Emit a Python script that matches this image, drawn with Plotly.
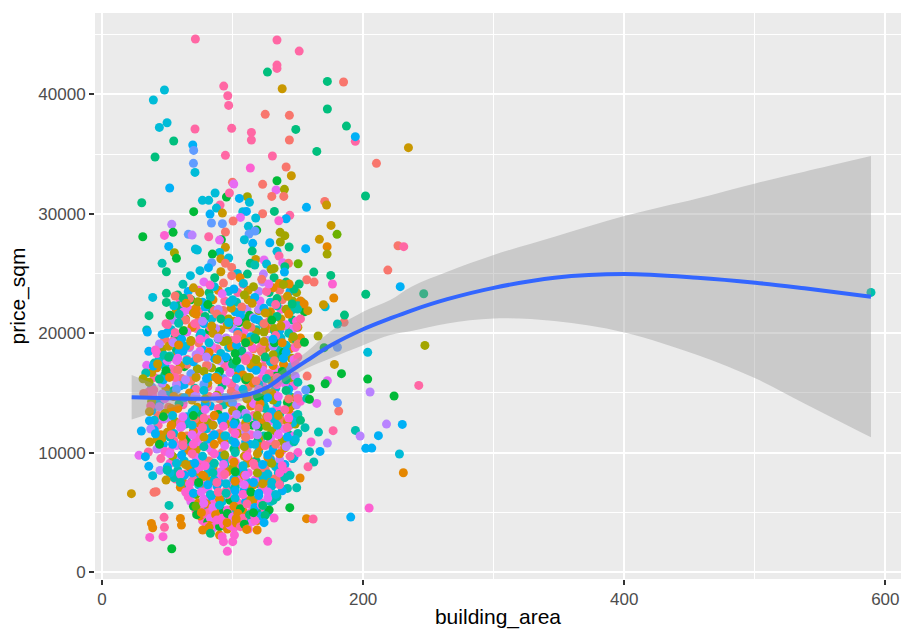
import plotly.graph_objects as go

palette = ["#F8766D","#E58700","#C99800","#A3A500","#6BB100","#00BA38","#00BF7D","#00C0AF",
           "#00BCD8","#00B0F6","#619CFF","#B983FF","#E76BF3","#FD61D1","#FF67A4"]

dense_area = [
62,70,78,86,93,101,108,116,123,131,139,147,
58,67,75,83,92,100,109,117,126,134,142,152,
55,63,72,81,89,98,107,115,124,133,141,150,
52,61,70,79,88,97,106,116,125,134,143,152,
50,59,69,78,87,96,105,114,123,132,141,150,
46,56,65,75,85,95,104,114,124,133,143,152,
44,54,64,74,84,93,103,113,122,132,141,150,
42,52,62,72,82,92,102,112,122,131,141,150,
40,50,60,70,80,90,100,110,119,129,139,148,
38,48,58,68,78,88,98,108,118,128,138,148,
36,47,57,68,78,89,99,110,120,130,140,150,
36,46,57,67,78,88,99,109,120,130,141,150,
38,48,59,69,79,90,100,111,121,131,142,152,
38,48,58,69,79,89,100,110,120,130,140,150,
40,50,60,71,81,91,102,112,122,132,142,152,
40,50,60,70,80,90,100,110,120,130,140,150,
42,52,62,72,81,91,100,110,119,129,138,148,
42,52,62,72,82,92,101,111,121,131,140,150,
45,54,63,72,82,91,100,109,118,127,136,146,
50,58,66,74,83,91,100,108,117,125,133,142,
55,63,70,78,86,93,101,109,117,124,132,140,
60,67,74,81,88,95,102,109,116,123,130,138,
66,72,78,84,90,96,102,108,114,120,127,134,
70,75,80,85,90,96,101,106,111,117,122,128,
75,79,83,87,92,96,100,104,108,113,117,122,
82,85,88,90,93,96,98,101,103,106,109,112,
64,71,77,84,91,97,104,111,117,124,130,137,
61,68,75,82,89,96,103,110,117,124,131,138,
58,65,73,80,88,95,103,110,118,125,132,139,
56,64,72,80,87,95,103,111,118,126,134,141,
55,63,71,79,87,95,103,111,119,127,135,143,
54,62,70,78,86,94,103,111,119,127,135,143,
53,61,69,78,86,94,102,110,119,127,135,142,
52,61,69,77,86,94,102,111,119,127,136,144,
52,60,69,77,85,94,102,110,119,127,136,144,
53,61,69,77,85,93,101,110,118,126,134,142,
54,62,70,78,86,94,102,109,117,125,133,141,
57,64,71,79,86,93,101,108,116,123,130,138,
60,67,74,81,88,95,102,109,116,123,130,136,
64,70,76,83,89,95,102,108,114,120,127,133,
]
dense_price = [
24100,23800,24300,23900,24200,23700,24100,23900,24300,23800,24100,23700,
23200,22900,23400,23000,23300,22800,23200,23000,23500,22900,23100,22700,
22300,22500,22100,22400,22000,22600,22200,22500,22100,22400,22000,22300,
21500,21300,21700,21400,21600,21200,21500,21300,21700,21400,21600,21200,
20700,20900,20500,20800,20400,20700,20900,20500,20800,20400,20700,20500,
19900,19700,20100,19800,20000,19600,19900,19700,20100,19800,20000,19600,
19100,19300,18900,19200,18900,19300,19000,19300,18900,19200,19000,19100,
18300,18100,18500,18200,18400,18000,18300,18100,18500,18200,18400,18000,
17500,17700,17300,17600,17300,17700,17400,17700,17300,17600,17400,17500,
16700,16500,16900,16600,16800,16400,16700,16500,16900,16600,16800,16400,
15900,16100,15700,16000,15700,16100,15800,16100,15700,16000,15800,15900,
15100,14900,15300,15000,15200,14800,15100,14900,15300,15000,15200,14800,
14300,14500,14100,14400,14100,14500,14200,14500,14100,14400,14200,14300,
13500,13300,13700,13400,13600,13200,13500,13300,13700,13400,13600,13200,
12700,12900,12500,12800,12500,12900,12600,12900,12500,12800,12600,12700,
11900,11700,12100,11800,12000,11600,11900,11700,12100,11800,12000,11600,
11100,11300,10900,11200,10900,11300,11000,11300,10900,11200,11000,11100,
10300,10100,10500,10200,10400,10000,10300,10100,10500,10200,10400,10000,
9500,9700,9300,9600,9300,9700,9400,9700,9300,9600,9400,9500,
8700,8500,8900,8600,8800,8400,8700,8500,8900,8600,8800,8400,
7900,8100,7700,8000,7700,8100,7800,8100,7700,8000,7800,7900,
7100,6900,7300,7000,7200,6800,7100,6900,7300,7000,7200,6800,
6300,6500,6100,6400,6100,6500,6200,6500,6100,6400,6200,6300,
5500,5300,5700,5400,5600,5200,5500,5300,5700,5400,5600,5200,
4700,4900,4500,4800,4500,4900,4600,4900,4500,4800,4600,4700,
3900,3700,4100,3800,4000,3600,3900,3700,4100,3800,4000,3600,
21100,20800,21000,20600,21200,20900,21000,20700,21200,20800,21100,20600,
19500,19300,19500,19200,19600,19400,19500,19200,19600,19300,19500,19200,
17900,17700,17900,18000,17800,18000,17700,17900,17800,18000,17700,17900,
16300,16100,16300,16200,16300,16000,16200,16300,16000,16200,16300,16100,
14700,14600,14700,14500,14700,14600,14800,14500,14700,14600,14700,14500,
13100,13000,13100,12900,13100,13000,13200,12900,13100,13000,13100,12900,
11500,11400,11500,11300,11500,11400,11600,11300,11500,11400,11500,11300,
9900,9800,9900,9700,9900,9800,10000,9700,9900,9800,9900,9700,
8300,8200,8300,8100,8300,8200,8400,8100,8300,8200,8300,8100,
12300,12200,12300,12100,12300,12200,12400,12100,12300,12200,12300,12100,
10700,10600,10700,10500,10700,10600,10800,10500,10700,10600,10700,10500,
9100,9000,9100,8900,9100,9000,9200,8900,9100,9000,9100,8900,
7500,7400,7500,7300,7500,7400,7600,7300,7500,7400,7500,7300,
6700,6600,6700,6500,6700,6600,6800,6500,6700,6600,6700,6500,
]
dense_hue = [
7,2,12,8,0,9,14,3,11,1,2,6,
6,0,2,7,12,8,3,9,14,6,2,1,
8,14,1,5,11,8,0,2,9,14,3,7,
5,12,2,6,0,3,9,11,2,6,1,14,
14,7,1,9,11,2,5,0,8,3,12,2,
9,6,12,8,2,11,0,9,3,14,7,1,
11,14,8,0,12,3,9,2,14,5,8,0,
13,7,9,11,1,8,5,12,0,3,9,14,
7,12,2,9,0,11,6,14,2,8,1,13,
2,6,0,10,3,8,12,1,9,14,5,11,
3,9,11,0,10,1,14,5,8,2,12,7,
14,11,10,1,8,3,0,9,12,2,6,11,
3,12,6,2,9,0,10,14,1,3,5,13,
9,3,1,8,12,5,2,11,0,9,14,7,
8,11,14,0,3,9,6,12,1,8,2,6,
9,2,12,1,8,0,14,11,5,3,12,7,
2,7,0,13,9,1,8,14,6,12,3,8,
11,13,9,2,12,0,6,14,1,9,2,13,
14,3,8,12,0,9,14,2,6,1,11,8,
9,7,1,13,8,12,3,9,14,0,8,13,
7,9,14,2,8,13,9,1,12,8,0,7,
1,13,8,12,9,14,7,9,1,13,8,9,
13,4,12,9,1,14,8,13,2,9,12,7,
5,13,1,12,8,13,1,5,14,9,13,5,
1,14,12,1,13,5,12,1,14,6,13,9,
1,12,13,5,13,1,12,13,1,14,5,13,
0,14,11,2,6,8,12,3,9,0,5,2,
9,2,13,8,11,3,14,5,6,2,9,1,
12,8,0,11,2,9,5,14,3,6,0,9,
14,11,2,9,1,12,8,3,0,7,14,6,
1,9,11,3,12,10,14,2,5,9,12,0,
8,12,5,14,1,9,11,7,3,14,2,13,
14,1,12,2,9,8,13,0,11,5,12,9,
12,9,14,8,13,3,7,13,2,9,1,14,
8,13,9,1,7,14,5,12,3,8,13,7,
1,12,8,14,2,13,9,0,11,3,8,14,
9,14,13,7,1,12,9,3,8,14,0,11,
8,2,9,13,7,12,1,8,14,9,3,13,
7,13,5,9,14,8,1,12,9,2,8,14,
13,9,12,8,14,7,9,13,5,9,12,8,
]

fill_area = [
66,74,82,89,97,104,112,120,128,136,144,149,
60,68,77,85,94,103,112,121,129,138,146,153,
57,66,74,84,93,102,111,120,129,137,145,155,
54,64,74,84,93,101,110,120,128,137,146,149,
53,63,72,82,91,100,109,118,128,136,145,147,
48,59,68,79,89,99,108,118,127,137,146,149,
46,57,67,77,88,97,107,116,126,135,144,148,
44,55,65,75,86,96,105,115,125,135,145,147,
42,53,63,73,84,94,104,114,123,133,142,145,
40,51,61,72,82,93,103,113,122,133,143,146,
38,49,60,71,81,92,102,112,123,133,143,147,
39,50,61,72,82,92,102,113,123,133,144,148,
41,51,62,73,83,93,104,114,124,134,145,149,
43,54,65,75,86,96,106,116,126,136,146,148,
43,53,64,74,85,95,105,115,125,135,144,148,
45,55,65,75,85,95,104,114,124,134,143,147,
47,57,66,75,85,94,103,113,122,131,140,144,
52,60,68,77,85,94,102,111,119,128,136,140,
57,64,72,80,88,96,104,112,120,127,135,138,
62,69,76,83,90,98,105,112,119,126,133,136,
68,74,80,86,92,98,104,110,116,122,129,131,
72,77,82,88,93,98,103,108,114,119,125,127,
77,81,85,90,94,98,102,106,111,115,119,123,
59,66,72,79,86,92,99,106,113,120,127,134,
62,69,76,83,90,97,104,111,118,125,132,139,
51,59,67,75,83,91,99,107,115,123,131,139,
48,56,65,73,81,90,98,106,114,123,131,140,
46,55,63,72,81,90,99,108,116,125,134,143,
44,53,62,71,80,89,98,107,116,125,134,143,
47,56,65,74,83,92,101,110,119,128,137,146,
46,55,64,73,83,92,101,110,120,129,138,147,
48,57,66,75,84,93,102,111,120,129,138,147,
50,59,68,76,85,94,103,112,120,129,138,146,
56,64,72,80,88,96,104,112,120,128,136,142,
]
fill_price = [
23500,23600,23400,23600,23500,23400,23600,23500,23400,23600,23500,23400,
22700,22800,22600,22800,22700,22600,22800,22700,22600,22800,22700,22600,
21900,22000,21800,22000,21900,21800,22000,21900,21800,22000,21900,21800,
21100,21200,21000,21200,21100,21000,21200,21100,21000,21200,21100,21000,
20300,20200,20400,20200,20300,20400,20200,20300,20400,20200,20300,20400,
19500,19600,19400,19600,19500,19400,19600,19500,19400,19600,19500,19400,
18700,18600,18800,18600,18700,18800,18600,18700,18800,18600,18700,18800,
17900,18000,17800,18000,17900,17800,18000,17900,17800,18000,17900,17800,
17100,17000,17200,17000,17100,17200,17000,17100,17200,17000,17100,17200,
16300,16400,16200,16400,16300,16200,16400,16300,16200,16400,16300,16200,
15500,15400,15600,15400,15500,15600,15400,15500,15600,15400,15500,15600,
14700,14800,14600,14800,14700,14600,14800,14700,14600,14800,14700,14600,
13900,13800,14000,13800,13900,14000,13800,13900,14000,13800,13900,14000,
13100,13200,13000,13200,13100,13000,13200,13100,13000,13200,13100,13000,
12300,12200,12400,12200,12300,12400,12200,12300,12400,12200,12300,12400,
11500,11600,11400,11600,11500,11400,11600,11500,11400,11600,11500,11400,
10700,10600,10800,10600,10700,10800,10600,10700,10800,10600,10700,10800,
9100,9200,9000,9200,9100,9000,9200,9100,9000,9200,9100,9000,
8300,8200,8400,8200,8300,8400,8200,8300,8400,8200,8300,8400,
7500,7600,7400,7600,7500,7400,7600,7500,7400,7600,7500,7400,
5900,5800,6000,5800,5900,6000,5800,5900,6000,5800,5900,6000,
5100,5200,5000,5200,5100,5000,5200,5100,5000,5200,5100,5000,
4300,4200,4400,4200,4300,4400,4200,4300,4400,4200,4300,4400,
22300,22000,21600,22200,21900,21500,22100,21800,21500,22000,21700,22300,
20100,20600,20000,20500,20200,20700,20100,20600,20100,20500,20200,20600,
18900,18400,18900,18500,18800,18300,18900,18500,18800,18400,18900,18400,
17300,16900,17400,17000,17300,16800,17300,17000,17400,16900,17300,16800,
15800,15200,15700,15300,15800,15200,15700,15300,15800,15200,15700,15300,
14200,13700,14200,13600,14100,13700,14200,13600,14100,13700,14200,13600,
12800,12600,12700,12500,12800,12600,12700,12500,12800,12600,12700,12500,
11200,11000,11100,10900,11200,11000,11100,10900,11200,11000,11100,10900,
10100,9500,10200,9600,10100,9500,10200,9600,10100,9500,10200,9600,
8800,9400,8700,9500,8800,9400,8700,9500,8800,9400,8700,9500,
7800,6900,7700,7000,7800,6900,7700,7000,7800,6900,7700,7000,
]
fill_hue = [
9,13,6,1,8,14,2,11,6,0,9,3,
13,5,9,1,14,7,2,12,8,0,3,6,
2,8,14,6,0,9,11,3,1,13,7,5,
11,3,0,8,12,1,5,9,14,2,6,13,
8,1,14,5,2,11,13,7,0,9,3,12,
0,9,3,13,7,14,1,5,11,8,2,6,
3,6,11,9,14,8,12,0,2,7,1,13,
8,2,14,0,9,5,11,1,13,6,3,12,
1,13,5,8,3,14,7,9,0,12,2,10,
14,7,0,12,8,10,1,2,13,5,9,3,
10,2,9,7,14,6,11,0,12,8,1,13,
13,8,1,11,0,9,3,14,5,12,7,2,
5,0,14,2,9,7,12,1,8,13,3,11,
0,11,9,6,1,12,8,14,2,7,13,9,
14,1,7,13,9,2,12,5,8,0,11,3,
1,8,0,12,14,9,2,13,7,11,6,12,
9,12,8,2,13,1,14,9,0,6,3,11,
13,1,9,14,5,8,13,2,12,7,0,9,
9,14,2,8,12,1,7,13,9,14,8,2,
2,8,13,1,9,12,14,8,7,1,13,9,
12,1,9,13,8,5,14,9,1,13,8,7,
14,9,13,1,5,12,8,1,13,6,14,9,
13,5,1,12,14,13,9,1,8,12,1,13,
6,12,1,9,0,14,2,8,5,11,3,7,
11,0,8,14,2,6,9,12,3,1,7,14,
2,9,14,12,0,8,1,6,13,3,11,5,
8,14,0,3,11,5,13,9,2,12,1,10,
11,6,9,14,2,12,0,8,1,3,13,9,
9,1,13,8,0,14,2,5,12,7,8,1,
12,3,8,1,13,9,14,2,7,12,0,8,
2,14,5,12,8,1,13,9,3,14,11,7,
13,8,1,9,14,7,2,12,8,0,13,9,
9,12,7,13,2,8,14,1,12,9,3,14,
14,7,9,1,12,8,13,2,9,14,0,7,
]

outer_area = [
71.5,134,151,134,134,126.7,172.6,185,138,93.2,96.3,97,47.8,39.3,172.6,125,143.5,49.8,43.9,71.2,99.3,114.4,
148.4,187.2,194,194,114.4,143.5,54.9,69.5,70.2,164.5,94.5,130.5,40.6,70,210.2,113.6,141,71.2,145,99.9,100.9,
123,134,51.8,133.3,139.7,86.6,95.3,97.6,111.3,105.2,130,139.2,201.8,76.9,81.7,112.9,30.4,170.6,172,90.4,87.6,
156.6,70.2,82.7,92.2,107.8,110.6,123,132,143.8,141,135.4,106,100.4,117.7,83.8,92.2,175.4,53.4,112.1,54.4,66.1,
69,47.8,31.2,118.5,117.2,112.6,94.5,81.7,136.4,140,180,91.4,90,166.5,136.6,109,115.4,128.5,51.1,94.5,143.3,
156,172.4,71.5,73,115,134,55.4,90.1,84.5,172.4,135.6,57,91,97,117.7,124.1,46,84,94.5,113.6,117,126,138.4,142.8,
150.2,140,131.8,129.5,81.5,99.3,91,75,49.3,139.7,162.2,218.9,103.7,123.6,111.3,67.7,175.2,99.3,86.3,105.7,131.8,
122.3,156.8,162.4,141,176.5,151,82.7,135.9,143.3,138.9,127.7,108.3,
38.8,49.3,49.3,56,62.3,64.4,73.5,36,62.6,71.5,59,49,58.7,34.2,34.7,55.9,62.3,49.3,54.6,58.7,35.8,40.9,47.5,51.1,
57.2,34.2,39.3,42.6,33.5,31.4,43.9,49,51.6,31.9,39.6,37.3,43.9,36.3,47,36.3,30.1,37.3,40.9,36.5,44,28.3,35.5,33.2,
35.8,44.4,38.8,49,49.8,22.5,39.8,41.4,51.3,47.5,37.8,38.8,47.8,36.5,46.7,53.4,60,60.8,72,72.5,76.1,77.9,79.7,77.1,
82,83,90,93,101.4,100.1,96,92,87.9,95.8,102.7,110.8,118.8,126.9,117.2,124.9,124.1,131.8,156.6,161.7,190.5,204.6,
143.8,123.1,116,149.1,151.7,162.2,157.8,167,158.9,172.6,160.1,165.8,155.5,177,194.1,197.7,211.7,217.9,202,206.6,
181.3,180.3,164.5,205.3,203.5,183.4,178,203.5,172.6,170.9,157.1,159.6,156,156.8,158.9,149.9,180.3,170.1,165.5,155,
185.4,185.7,180.3,177.5,170.9,169.6,157.6,154.8,149.7,145.6,202,149.2,146.6,
234.7,226.7,231.1,228.4,246.4,589,247.3,223.7,242.6,230,227.8,230.8,
]
outer_price = [
44640,44560,43630,42460,42180,41870,41090,41040,40480,40700,39890,39080,40370,39530,38780,38330,38250,37630,37240,37100,37160,36820,
37070,37350,36070,36460,36180,36180,36100,35760,35310,35230,34900,34840,34760,34230,34230,33840,33920,33470,33190,32640,32500,
32470,32770,32160,32000,32050,31740,31410,31740,31430,31290,31460,31460,31490,31130,31130,30960,30930,31040,30740,30740,30480,
30540,30180,29980,30060,30180,30200,30010,30200,29870,29590,29420,29700,29400,29650,29230,29170,29030,29120,28950,28450,28280,
28220,28190,28080,28640,28560,28310,28480,28080,28450,28170,28280,27830,27800,27860,27640,27830,27530,27580,27270,27190,27220,
27080,27250,27050,26970,26880,26860,26740,26770,26630,26630,26470,26270,26240,26300,26180,26130,25850,25910,25850,25850,25710,25800,25910,25850,
25820,25570,25430,25350,25490,25510,25150,25240,25150,25120,25120,25290,25010,24950,24950,24820,24840,24820,24650,24650,24650,
24510,24480,24280,24280,24120,24120,24030,24170,24120,24090,24120,24170,
23000,23340,22580,23120,22920,22500,22640,21470,21800,21690,21580,20800,20830,20270,20100,20040,20210,19990,19210,19010,18480,18590,18150,17980,
17700,17310,17250,17420,16670,16190,16160,16860,16300,14960,15240,13900,13850,13430,13010,12670,11810,11980,11580,10890,10690,9770,10050,9660,
8850,8510,8070,7700,8540,6560,6670,6730,5580,4580,4070,3710,3740,2900,2960,1950,4490,3930,5500,4800,4970,5750,3800,3520,
3740,3240,3100,2540,3100,2540,1730,2960,4350,4130,4470,3570,3520,2570,4300,4740,4130,4520,4470,4440,4600,5360,
5390,5580,4970,7060,7870,9210,8820,10100,10080,10800,10890,11720,12090,11840,11860,11390,11420,12390,10360,10380,
13480,14180,14120,15080,16160,16610,17390,18400,16020,15770,16410,15350,15240,14540,14460,14540,18820,18790,19770,19240,
20910,21520,20770,22950,22220,22390,21890,22450,22030,22450,23260,20550,19710,
35540,27330,27250,23900,23310,23420,18980,14740,15630,12360,9880,8310,
]
outer_hue = [
14,14,14,14,14,6,6,0,2,14,14,14,8,8,6,0,0,8,8,14,14,14,
6,6,14,9,14,0,6,9,10,6,14,14,6,10,0,13,0,8,2,0,12,
0,5,9,12,3,8,5,14,3,9,0,0,6,8,8,8,6,0,2,14,8,
9,5,9,2,8,9,0,6,14,9,13,12,0,8,10,10,2,11,8,5,10,
11,13,5,5,10,10,0,14,3,3,4,5,12,2,3,8,9,9,9,2,6,
9,1,8,8,6,8,3,8,5,3,14,5,2,8,2,12,7,10,0,6,7,8,12,0,
4,6,3,3,9,0,2,8,6,9,6,0,8,11,6,8,6,0,6,1,6,
0,0,0,6,13,6,13,1,1,3,12,8,
8,6,6,0,6,1,3,6,12,1,7,14,7,7,9,14,5,9,11,1,9,13,7,6,
12,12,9,2,7,3,6,5,1,0,14,14,11,2,5,9,9,11,9,2,5,12,14,9,
9,11,8,2,7,2,0,0,7,14,1,1,14,13,13,5,1,1,4,5,1,12,13,1,
1,6,1,13,13,13,13,13,13,1,1,1,1,13,13,6,9,13,1,14,9,13,
5,6,5,7,1,7,14,9,7,11,13,7,7,14,7,11,9,11,9,9,
0,10,12,11,5,5,2,8,12,5,0,5,10,7,5,14,10,5,3,5,
0,6,7,1,8,2,2,1,7,6,6,14,3,
2,0,14,9,6,7,3,5,14,9,8,1,
]

smooth_x = [22.7,67.4,93,113.4,126.2,138.9,156.8,174.7,200,220.7,237,264.5,300,346.6,400,456,500.4,538,589]
smooth_y = [14630,14520,14570,14910,15450,16400,17700,18950,20330,21240,21900,22850,23800,24650,24960,24650,24230,23760,23060]
upper_y = [16500,14880,14960,15380,16000,17000,18450,20130,21800,22780,23900,25150,26550,28080,29820,31290,32550,33530,34840]
lower_y = [12780,14120,14180,14400,14900,15850,17060,17890,19000,19850,20180,20820,21240,21020,20070,18170,16220,14120,11280]

fig = go.Figure()
fig.add_trace(go.Scatter(x=fill_area + dense_area + outer_area, y=fill_price + dense_price + outer_price, mode="markers",
    marker=dict(size=9, color=[palette[h] for h in fill_hue + dense_hue + outer_hue], line=dict(width=0)), hoverinfo="skip"))
fig.add_trace(go.Scatter(x=smooth_x, y=lower_y, mode="lines", line=dict(width=0, shape="spline", smoothing=1), hoverinfo="skip"))
fig.add_trace(go.Scatter(x=smooth_x, y=upper_y, mode="lines", fill="tonexty", fillcolor="rgba(153,153,153,0.4)",
    line=dict(width=0, shape="spline", smoothing=1), hoverinfo="skip"))
fig.add_trace(go.Scatter(x=smooth_x, y=smooth_y, mode="lines", line=dict(color="#3366FF", width=4, shape="spline", smoothing=1), hoverinfo="skip"))

font = "Liberation Sans"
axis = dict(showline=False, zeroline=False, showgrid=True, gridcolor="white", gridwidth=2.2,
    ticks="outside", ticklen=5, tickwidth=2, tickcolor="#333333",
    tickfont=dict(family=font, size=17, color="#4D4D4D"))
fig.update_layout(width=902, height=629, showlegend=False, paper_bgcolor="white", plot_bgcolor="#EBEBEB",
    margin=dict(l=95, r=1, t=13, b=50),
    xaxis=dict(axis, range=[-5.4, 612], tick0=0, dtick=200, tickformat="d",
        minor=dict(dtick=100, showgrid=True, gridcolor="white", gridwidth=1.1),
        title=dict(text="building_area", font=dict(family=font, size=21, color="black"), standoff=5)),
    yaxis=dict(axis, range=[-586, 46820], tick0=0, dtick=10000, tickformat="d",
        minor=dict(dtick=5000, showgrid=True, gridcolor="white", gridwidth=1.1),
        title=dict(text="price_sqm", font=dict(family=font, size=21, color="black"), standoff=6)))
print(len(fill_area), len(fill_price), len(fill_hue), len(dense_area), len(dense_price), len(dense_hue), len(outer_area), len(outer_price), len(outer_hue))
fig.write_html("out.html", config={"displayModeBar": False},
    post_script="document.body.style.margin='0';document.documentElement.style.overflow='hidden';")
